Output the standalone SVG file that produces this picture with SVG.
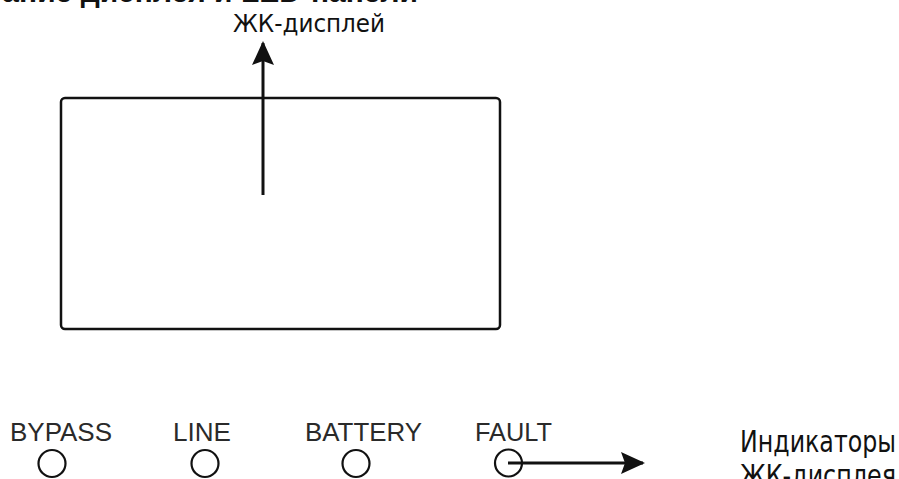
<svg xmlns="http://www.w3.org/2000/svg" width="899" height="479" viewBox="0 0 899 479">
<style>
.lbl{font-family:"Liberation Sans",Arial,sans-serif;font-size:25px;fill:#2a2a2a}
.ru{font-family:"DejaVu Sans","Liberation Sans",sans-serif;fill:#111}
.led{fill:none;stroke:#111;stroke-width:2.2}
.conn{stroke:#111;stroke-width:3;fill:none}
</style>
<defs>
<marker id="ah" viewBox="0 0 24 24" refX="22" refY="12" markerWidth="24" markerHeight="24" markerUnits="userSpaceOnUse" orient="auto">
<path d="M0,1 L24,12 L0,23 L4,12 Z" fill="#111"/>
</marker>
</defs>
<rect width="899" height="479" fill="#fff"/>
<text x="418" y="2" text-anchor="end" font-family="'Liberation Sans',Arial,sans-serif" font-weight="bold" font-size="30" fill="#111">Описание дисплея и LED-панели</text>
<g id="lcd">
<rect x="61" y="98" width="439" height="231" rx="4" fill="none" stroke="#111" stroke-width="2.5"/>
</g>
<g id="lcd-label">
<text class="ru" x="233" y="32" font-size="25" textLength="152" lengthAdjust="spacingAndGlyphs">ЖК-дисплей</text>
</g>
<g id="bypass">
<text class="lbl" x="10" y="441" textLength="102" lengthAdjust="spacingAndGlyphs">BYPASS</text>
<circle class="led" cx="52" cy="463.5" r="13.5"/>
</g>
<g id="line">
<text class="lbl" x="173" y="441" textLength="58" lengthAdjust="spacingAndGlyphs">LINE</text>
<circle class="led" cx="205" cy="463.5" r="13.5"/>
</g>
<g id="battery">
<text class="lbl" x="305" y="441" textLength="117" lengthAdjust="spacingAndGlyphs">BATTERY</text>
<circle class="led" cx="356" cy="463.5" r="13.5"/>
</g>
<g id="fault">
<text class="lbl" x="475" y="441" textLength="77" lengthAdjust="spacingAndGlyphs">FAULT</text>
<circle class="led" cx="508.5" cy="463" r="13.5"/>
</g>
<g id="indicators-label">
<text class="ru" x="740" y="452" font-size="30" textLength="156" lengthAdjust="spacingAndGlyphs">Индикаторы</text>
<text class="ru" x="740" y="486" font-size="30" textLength="156" lengthAdjust="spacingAndGlyphs">ЖК-дисплея</text>
</g>
<g id="connectors">
<line class="conn" x1="263" y1="195" x2="263" y2="43" marker-end="url(#ah)"/>
<line class="conn" x1="508" y1="463" x2="643" y2="463" marker-end="url(#ah)"/>
</g>
</svg>
